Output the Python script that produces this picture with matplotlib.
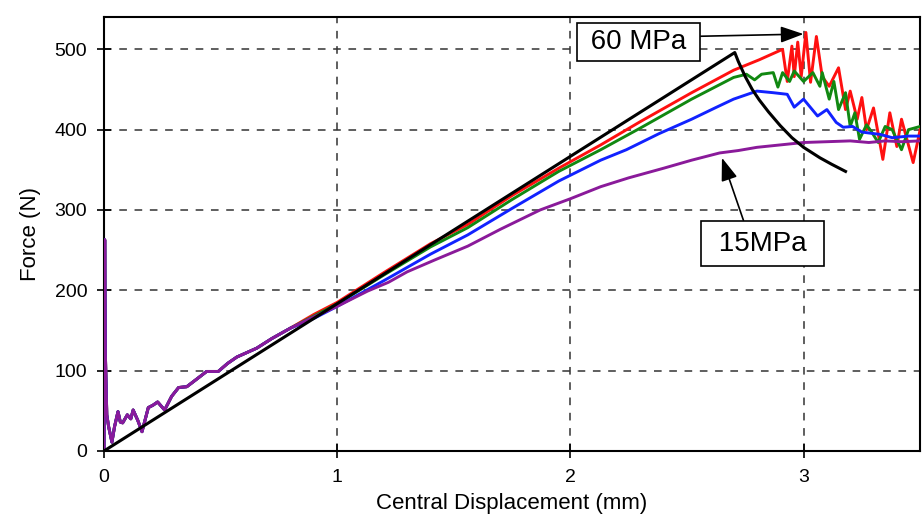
import matplotlib
matplotlib.use('Agg')
from matplotlib import pyplot as plt

plt.rcParams['font.family'] = ['Liberation Sans', 'DejaVu Sans']

# shared noisy start (all curves overlap here)
x_start = [0.0, 0.003, 0.006, 0.012, 0.02, 0.034, 0.045, 0.06, 0.07, 0.08, 0.1, 0.115, 0.125, 0.145,
           0.163, 0.19, 0.21, 0.23, 0.26, 0.29, 0.32, 0.355, 0.4, 0.44, 0.49, 0.53, 0.57, 0.655, 0.72, 0.8]
f_start = [0, 263, 120, 45, 30, 11, 30, 49, 36, 35, 45, 40, 51, 38,
           24, 54, 57, 61, 51, 68, 79, 80, 90, 99, 99, 109, 117, 128, 140, 153]

# purple (15 MPa)
x_purple = [0.9, 1.0, 1.13, 1.22, 1.3, 1.42, 1.56, 1.7, 1.87, 2.0, 2.13, 2.25, 2.4, 2.52, 2.64, 2.72, 2.8,
            2.9, 3.0, 3.1, 3.2, 3.28, 3.35, 3.42, 3.5]
f_purple = [167, 180, 199, 210, 223, 238, 255, 276, 300, 314, 329, 340, 352, 362, 371, 374, 378,
            381, 384, 385, 386, 384, 386, 385, 386]

# red (60 MPa)
x_red = [0.9, 1.0, 1.2, 1.4, 1.56, 1.75, 1.95, 2.13, 2.3, 2.52, 2.7, 2.81, 2.91,
         2.93, 2.95, 2.96, 2.975, 2.99, 3.01, 3.03, 3.055, 3.08, 3.11, 3.15, 3.18, 3.2, 3.23,
         3.25, 3.27, 3.3, 3.34, 3.37, 3.4, 3.42, 3.47, 3.5]
f_red = [170, 185, 222, 258, 282, 318, 352, 381, 410, 446, 474, 487, 500,
         460, 504, 466, 509, 466, 521, 459, 516, 466, 454, 477, 425, 448, 413,
         440, 400, 427, 363, 421, 379, 413, 359, 400]

# green
x_green = [0.9, 1.0, 1.2, 1.4, 1.56, 1.75, 1.95, 2.13, 2.3, 2.52, 2.7, 2.755, 2.79, 2.82, 2.87, 2.89,
           2.91, 2.94, 2.96, 3.0, 3.04, 3.07, 3.08, 3.11, 3.13, 3.15, 3.18, 3.2, 3.22, 3.24, 3.27,
           3.29, 3.32, 3.35, 3.38, 3.42, 3.45, 3.5]
f_green = [168, 183, 219, 254, 278, 313, 348, 375, 402, 438, 465, 469, 462, 469, 471, 453,
           471, 460, 473, 460, 471, 454, 471, 438, 460, 425, 446, 404, 421, 388, 406,
           398, 384, 404, 400, 375, 400, 404]

# blue
x_blue = [0.9, 1.0, 1.2, 1.4, 1.56, 1.75, 1.95, 2.13, 2.24, 2.38, 2.52, 2.62, 2.7, 2.8, 2.87, 2.93,
          2.96, 3.0, 3.06, 3.1, 3.14, 3.17, 3.21, 3.25, 3.33, 3.38, 3.45, 3.5]
f_blue = [165, 180, 212, 245, 269, 302, 336, 362, 375, 395, 413, 427, 438, 448, 446, 444,
          428, 438, 417, 425, 409, 403, 404, 397, 394, 390, 392, 392]

# black reference line
x_black = [0.0, 2.705, 2.72, 2.75, 2.78, 2.81, 2.85, 2.9, 2.95, 3.0, 3.07, 3.12, 3.18]
f_black = [0, 496, 485, 466, 450, 437, 422, 405, 390, 378, 365, 357, 348]

fig = plt.figure(figsize=(9.22, 5.21), dpi=100)
ax = fig.add_axes([0.1128, 0.1344, 0.8852, 0.8326])

ax.plot(x_start + x_red, f_start + f_red, color='#ff1010', lw=2.1, zorder=3)
ax.plot(x_start + x_green, f_start + f_green, color='#118811', lw=2.1, zorder=4)
ax.plot(x_start + x_blue, f_start + f_blue, color='#1122ff', lw=2.1, zorder=5)
ax.plot(x_start + x_purple, f_start + f_purple, color='#8a1a9a', lw=2.1, zorder=6)
ax.plot(x_black, f_black, color='black', lw=2.2, zorder=7)

ax.set_xlim(0, 3.5)
ax.set_ylim(0, 540)
ax.set_xticks([0, 1, 2, 3])
ax.set_yticks([0, 100, 200, 300, 400, 500])
ax.grid(True, color='#333333', linestyle=(0, (5, 5)), lw=1.1)
ax.tick_params(direction='inout', length=10, width=1.2, labelsize=14, colors='black')
ax.tick_params(axis='x', pad=8)
ax.tick_params(axis='y', pad=7)
for s in ax.spines.values():
    s.set_linewidth(1.5)

ax.set_xlabel('Central Displacement (mm)', fontsize=16, labelpad=5)
ax.set_ylabel('Force (N)', fontsize=16, labelpad=10)

ax.annotate(' 60 MPa ', xy=(3.0, 519), xytext=(2.293, 509), fontsize=20, ha='center', va='center',
            bbox=dict(boxstyle='square,pad=0.22', fc='white', ec='black', lw=1.2),
            arrowprops=dict(arrowstyle='-|>,head_length=0.7,head_width=0.25', color='black', lw=1.2,
                            relpos=(1.0, 0.72), shrinkA=0, shrinkB=0),
            zorder=10)
ax.annotate(' 15MPa ', xy=(2.65, 365), xytext=(2.824, 258), fontsize=20, ha='center', va='center',
            bbox=dict(boxstyle='square,pad=0.35', fc='white', ec='black', lw=1.2),
            arrowprops=dict(arrowstyle='-|>,head_length=0.7,head_width=0.25', color='black', lw=1.2,
                            relpos=(0.35, 1.0), shrinkA=0, shrinkB=0),
            zorder=10)

fig.savefig('out.png', dpi=100)
